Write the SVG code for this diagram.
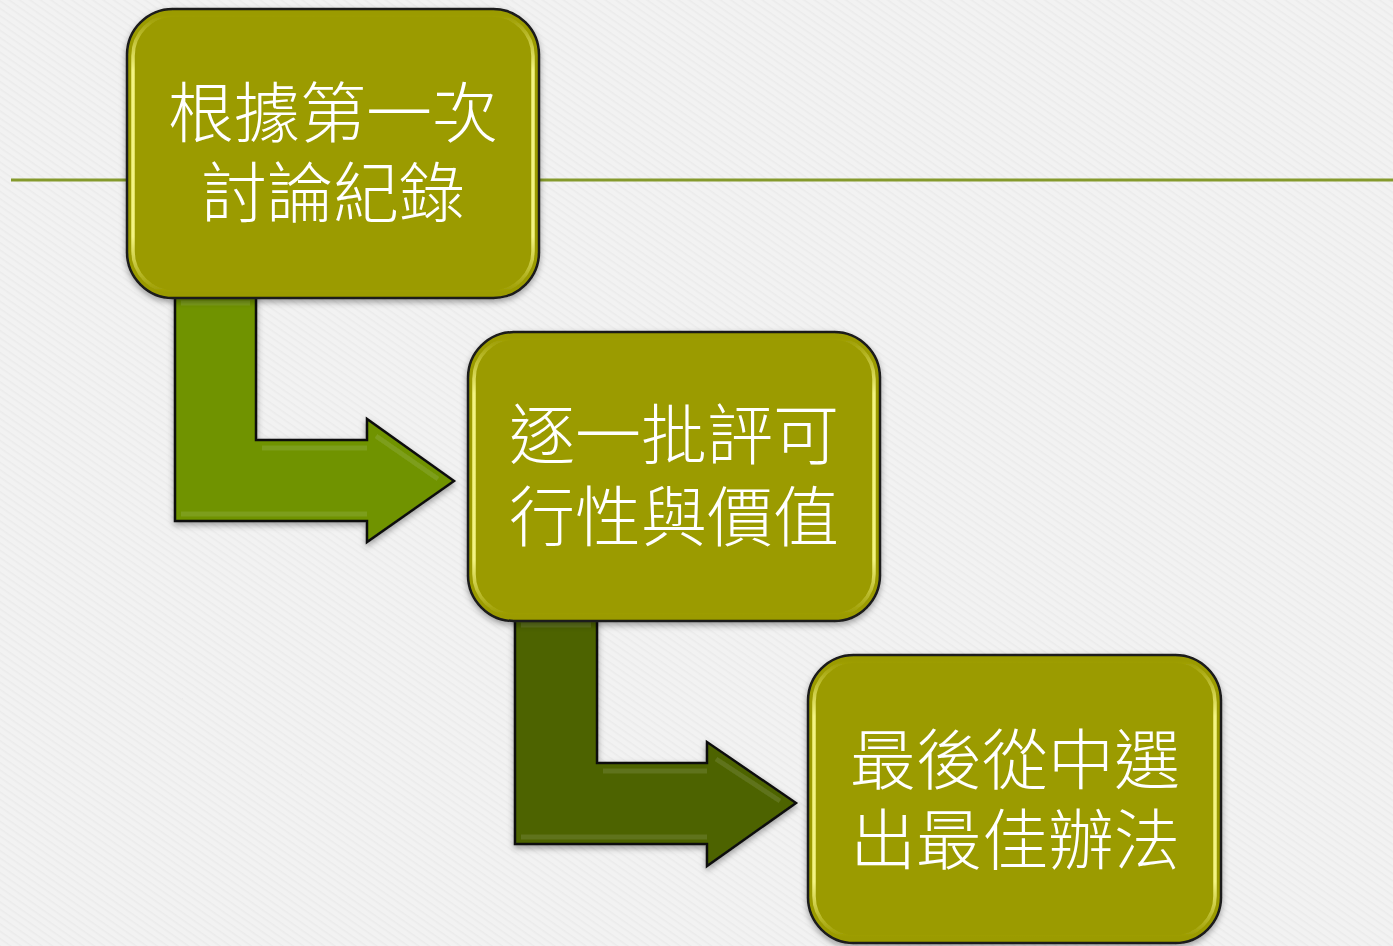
<svg xmlns="http://www.w3.org/2000/svg" width="1393" height="946" viewBox="0 0 1393 946">
  <defs>
    <style>
      .box { fill: #9b9b00; stroke: #1a1a1a; stroke-width: 2.5; }
      .rim { fill: none; stroke: url(#rimGrad); stroke-width: 3.5; }
      .label { font-family: "Liberation Sans", "Noto Sans CJK TC", "Noto Sans CJK SC", sans-serif; font-size: 66px; fill: #ffffff; text-anchor: middle; font-weight: 300; }
      .arrow { stroke: #111111; stroke-width: 2.5; stroke-linejoin: miter; }
      .bevel { fill: none; stroke: #ffffff; stroke-opacity: 0.1; stroke-width: 5; }
    </style>
    <linearGradient id="rimGrad" x1="0" y1="0" x2="0" y2="1">
      <stop offset="0" stop-color="#f4f47a" stop-opacity="0"/>
      <stop offset="0.2" stop-color="#f8f888" stop-opacity="0.95"/>
      <stop offset="0.8" stop-color="#f8f888" stop-opacity="0.95"/>
      <stop offset="1" stop-color="#f4f47a" stop-opacity="0"/>
    </linearGradient>
    <pattern id="paper" width="6" height="6" patternUnits="userSpaceOnUse" patternTransform="rotate(35)">
      <rect width="6" height="6" fill="#f2f2f2"/>
      <rect width="6" height="1.5" fill="#ebebeb"/>
    </pattern>
    <filter id="shadow" x="-10%" y="-10%" width="120%" height="125%">
      <feDropShadow dx="0" dy="3" stdDeviation="3" flood-color="#000000" flood-opacity="0.35"/>
    </filter>
  </defs>

  <rect x="0" y="0" width="1393" height="946" fill="url(#paper)"/>
  <line x1="11" y1="180" x2="1393" y2="180" stroke="#859a2c" stroke-width="3"/>

  <g id="connectors">
    <g id="arrow1" filter="url(#shadow)">
      <path class="arrow" fill="#6f9300" d="M175,292 L256,292 L256,440 L367,440 L367,419 L454,481 L367,542 L367,521 L175,521 Z"/>
      <path class="bevel" d="M181,303 L250,303 M181,514 L367,514 M262,448 L367,448 M376,436 L438,479"/>
    </g>
    <g id="arrow2" filter="url(#shadow)">
      <path class="arrow" fill="#4d6400" d="M515,614 L597,614 L597,763 L707,763 L707,742 L796,803 L707,866 L707,844 L515,844 Z"/>
      <path class="bevel" d="M521,625 L591,625 M521,837 L707,837 M603,771 L707,771 M716,759 L780,801"/>
    </g>
  </g>

  <g id="node1" filter="url(#shadow)">
    <rect class="box" x="127" y="9" width="412" height="289" rx="46" ry="46"/>
    <rect class="rim" x="133" y="15" width="400" height="277" rx="41" ry="41"/>
    <text class="label"><tspan x="333" y="137">根據第一次</tspan><tspan x="333" y="217">討論紀錄</tspan></text>
  </g>

  <g id="node2" filter="url(#shadow)">
    <rect class="box" x="468" y="332" width="412" height="289" rx="46" ry="46"/>
    <rect class="rim" x="474" y="338" width="400" height="277" rx="41" ry="41"/>
    <text class="label"><tspan x="674" y="459">逐一批評可</tspan><tspan x="674" y="541">行性與價值</tspan></text>
  </g>

  <g id="node3" filter="url(#shadow)">
    <rect class="box" x="808" y="655" width="413" height="288" rx="46" ry="46"/>
    <rect class="rim" x="814" y="661" width="401" height="276" rx="41" ry="41"/>
    <text class="label"><tspan x="1015" y="784">最後從中選</tspan><tspan x="1015" y="864">出最佳辦法</tspan></text>
  </g>
</svg>
